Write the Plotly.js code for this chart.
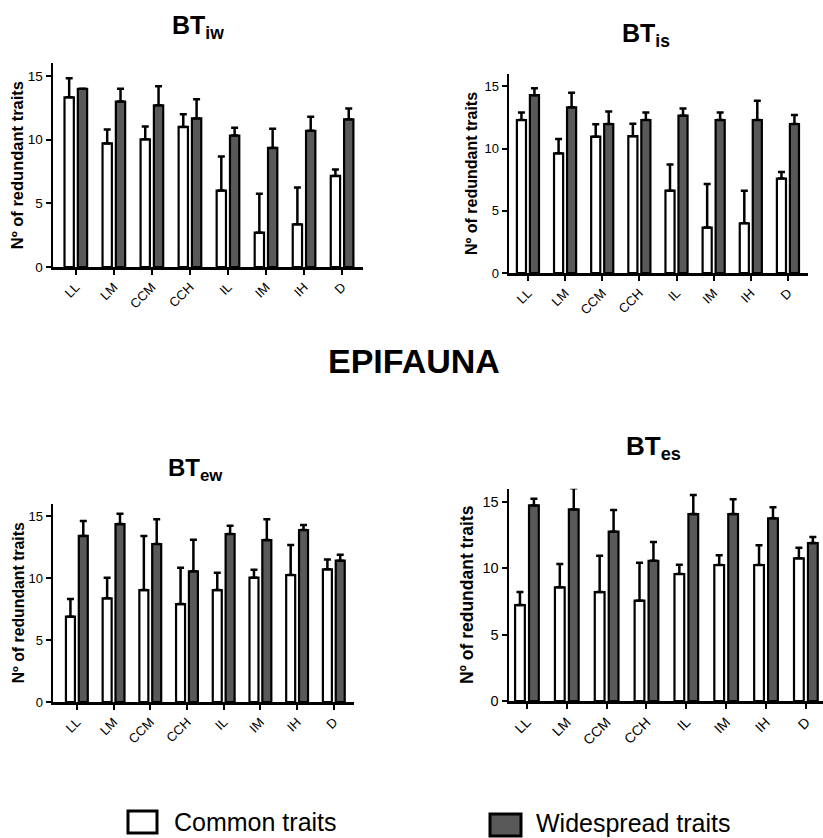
<!DOCTYPE html>
<html>
<head>
<meta charset="utf-8">
<script src="https://cdn.plot.ly/plotly-3.0.1.min.js"></script>
<style>
  html, body { margin: 0; padding: 0; background: #fff; }
  #chart { width: 823px; height: 838px; }
</style>
</head>
<body>
<div id="chart"></div>
<script>
// Habitat categories on every x axis
const categories = ['LL', 'LM', 'CCM', 'CCH', 'IL', 'IM', 'IH', 'D'];
const yTicks = [0, 5, 10, 15];

// BTiw
const iwCommon    = [13.33, 9.71, 10.03, 11.0, 6.0, 2.7, 3.35, 7.15];
const iwCommonErr = [1.5, 1.1, 1.0, 1.0, 2.67, 3.05, 2.9, 0.5];
const iwWide      = [14.0, 13.0, 12.7, 11.67, 10.33, 9.35, 10.7, 11.6];
const iwWideErr   = [0, 1.0, 1.5, 1.5, 0.6, 1.5, 1.1, 0.85];

// BTis
const isCommon    = [12.3, 9.62, 10.96, 11.0, 6.62, 3.65, 4.0, 7.6];
const isCommonErr = [0.6, 1.15, 1.0, 1.0, 2.1, 3.5, 2.62, 0.52];
const isWide      = [14.3, 13.32, 11.98, 12.3, 12.65, 12.3, 12.3, 11.98];
const isWideErr   = [0.55, 1.17, 1.0, 0.6, 0.57, 0.6, 1.55, 0.72];

// BTew
const ewCommon    = [6.88, 8.36, 9.03, 7.9, 9.03, 10.03, 10.24, 10.7];
const ewCommonErr = [1.42, 1.67, 4.36, 2.93, 1.4, 0.64, 2.42, 0.8];
const ewWide      = [13.39, 14.35, 12.74, 10.54, 13.55, 13.06, 13.87, 11.4];
const ewWideErr   = [1.2, 0.84, 2.0, 2.55, 0.67, 1.67, 0.4, 0.48];

// BTes
const esCommon    = [7.23, 8.57, 8.21, 7.56, 9.57, 10.25, 10.25, 10.75];
const esCommonErr = [0.98, 1.75, 2.74, 2.86, 0.7, 0.73, 1.48, 0.8];
const esWide      = [14.74, 14.44, 12.76, 10.57, 14.09, 14.09, 13.77, 11.9];
const esWideErr   = [0.5, 1.59, 1.63, 1.41, 1.43, 1.11, 0.83, 0.46];

const seriesNames = ['Common traits', 'Widespread traits'];
const panelTitles = ['BT<sub>iw</sub>', 'BT<sub>is</sub>', 'BT<sub>ew</sub>', 'BT<sub>es</sub>'];
const sectionTitle = 'EPIFAUNA';
const yTitle = 'Nº of redundant traits';

const W = 823, H = 838;
const FONT = 'Arial, "Liberation Sans", Helvetica, sans-serif';
const DARK = '#595959';
const px = v => v / W;
const py = v => 1 - v / H;

// Panel frames in pixels: left, right, top, bottom, x range, font sizes, title standoff
const panels = [
  { l: 53,  r: 363, t: 63.3,  b: 267, range: [-0.6, 7.55],  tick: 13.5, title: 16.5, xt: 13, so: 0,
    data: [iwCommon, iwCommonErr, iwWide, iwWideErr] },
  { l: 509, r: 808, t: 74,    b: 273, range: [-0.51, 7.54], tick: 13,   title: 16,   xt: 13, so: 3,
    data: [isCommon, isCommonErr, isWide, isWideErr] },
  { l: 53,  r: 354, t: 503.6, b: 702, range: [-0.65, 7.55], tick: 13,   title: 15.8, xt: 13, so: 0,
    data: [ewCommon, ewCommonErr, ewWide, ewWideErr] },
  { l: 509, r: 823, t: 488.7, b: 701, range: [-0.45, 7.43], tick: 14.5, title: 17.5, xt: 14, so: 5,
    data: [esCommon, esCommonErr, esWide, esWideErr] }
];

const zeros = categories.map(() => 0);
const traces = [];
const layout = {
  width: W, height: H,
  margin: { l: 0, r: 0, t: 0, b: 0 },
  paper_bgcolor: '#fff', plot_bgcolor: 'rgba(0,0,0,0)',
  barmode: 'group', bargap: 0.3, bargroupgap: 0.3,
  showlegend: false,
  font: { family: FONT, color: '#000' },
  annotations: [], shapes: []
};

panels.forEach((p, i) => {
  const n = i + 1;
  const xa = n === 1 ? 'x' : 'x' + n;
  const ya = n === 1 ? 'y' : 'y' + n;
  const [cVal, cErr, wVal, wErr] = p.data;
  const errStyle = { type: 'data', symmetric: false, arrayminus: zeros, color: '#000', thickness: 2.5, width: 3.5 };
  traces.push({
    type: 'bar', name: seriesNames[0], x: categories, y: cVal, xaxis: xa, yaxis: ya,
    marker: { color: '#fff', line: { color: '#000', width: 2.2 } },
    error_y: Object.assign({ array: cErr }, errStyle), hoverinfo: 'y'
  });
  traces.push({
    type: 'bar', name: seriesNames[1], x: categories, y: wVal, xaxis: xa, yaxis: ya,
    marker: { color: DARK, line: { color: '#000', width: 2.2 } },
    error_y: Object.assign({ array: wErr }, errStyle), hoverinfo: 'y'
  });
  const xKey = n === 1 ? 'xaxis' : 'xaxis' + n;
  const yKey = n === 1 ? 'yaxis' : 'yaxis' + n;
  layout[xKey] = {
    domain: [px(p.l), px(p.r)], anchor: ya, type: 'category', range: p.range,
    showline: true, linecolor: '#000', linewidth: 2.5, showgrid: false, zeroline: false,
    ticks: 'outside', ticklen: 5, tickwidth: 2, tickcolor: '#000', tickangle: -45,
    tickfont: { family: FONT, size: p.xt, color: '#000' }, fixedrange: true
  };
  layout[yKey] = {
    domain: [py(p.b), py(p.t)], anchor: xa, range: [0, 16],
    tickvals: yTicks, ticktext: yTicks.map(String),
    showline: true, linecolor: '#000', linewidth: 2.5, showgrid: false, zeroline: false,
    ticks: 'outside', ticklen: 5, tickwidth: 2, tickcolor: '#000',
    tickfont: { family: FONT, size: p.tick, color: '#000' },
    title: { text: yTitle, font: { family: FONT, size: p.title, color: '#000', weight: 'bold' }, standoff: p.so },
    fixedrange: true
  };
});

// Panel headings
const headPos = [[198, 27, 25], [646, 35, 25], [195, 469, 24], [653, 447, 26]];
panelTitles.forEach((t, i) => {
  layout.annotations.push({
    xref: 'paper', yref: 'paper', x: px(headPos[i][0]), y: py(headPos[i][1]),
    xanchor: 'center', yanchor: 'middle', showarrow: false,
    text: '<b>' + t + '</b>', font: { family: FONT, size: headPos[i][2], color: '#000' }
  });
});
layout.annotations.push({
  xref: 'paper', yref: 'paper', x: px(414), y: py(361), xanchor: 'center', yanchor: 'middle',
  showarrow: false, text: '<b>' + sectionTitle + '</b>', font: { family: FONT, size: 34, color: '#000' }
});

// Legend keys
const keys = [
  { box: [128, 811, 157, 833], fill: '#fff', tx: 172, ty: 822 },
  { box: [490, 814, 521, 836], fill: DARK, tx: 534, ty: 823 }
];
keys.forEach((k, i) => {
  layout.shapes.push({
    type: 'rect', xref: 'paper', yref: 'paper',
    x0: px(k.box[0]), x1: px(k.box[2]), y0: py(k.box[3]), y1: py(k.box[1]),
    fillcolor: k.fill, line: { color: '#000', width: 3 }
  });
  layout.annotations.push({
    xref: 'paper', yref: 'paper', x: px(k.tx), y: py(k.ty), xanchor: 'left', yanchor: 'middle',
    showarrow: false, text: seriesNames[i], font: { family: FONT, size: 25, color: '#000' }
  });
});

Plotly.newPlot('chart', traces, layout, { staticPlot: true, displayModeBar: false });
</script>
</body>
</html>
